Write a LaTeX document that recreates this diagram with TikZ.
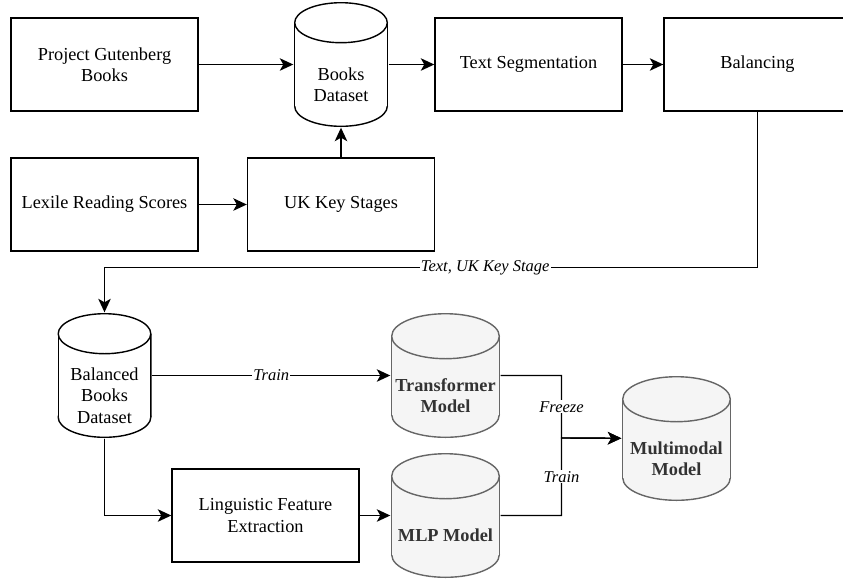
\documentclass[tikz,border=0pt]{standalone}
\usepackage{fontspec}
\setmainfont{Liberation Serif}
\usetikzlibrary{positioning,arrows.meta}
\definecolor{modelfill}{HTML}{F5F5F5}
\definecolor{modeldraw}{HTML}{666666}
\definecolor{modelink}{HTML}{333333}

\tikzset{
  tank ry/.initial=20pt,
  tank ink/.style={draw=black,fill=white},
  % cylinder drawn inside a plain rectangle node of half width #1
  tank/.style={rectangle,inner sep=0pt,minimum width=2*#1,minimum height=125pt,
    path picture={
      \coordinate (t) at ([yshift=-\pgfkeysvalueof{/tikz/tank ry}-0.7pt]path picture bounding box.north);
      \coordinate (b) at ([yshift=\pgfkeysvalueof{/tikz/tank ry}+0.7pt]path picture bounding box.south);
      \path[tank ink] (b) ellipse [x radius=#1-0.7pt,y radius=\pgfkeysvalueof{/tikz/tank ry}];
      \path[tank ink,draw=none] ([xshift=-#1+0.7pt]t) rectangle ([xshift=#1-0.7pt]b);
      \path[tank ink] ([xshift=-#1+0.7pt]t) -- ([xshift=-#1+0.7pt]b)
        ([xshift=#1-0.7pt]t) -- ([xshift=#1-0.7pt]b);
      \path[tank ink] (t) ellipse [x radius=#1-0.7pt,y radius=\pgfkeysvalueof{/tikz/tank ry}];
    }}
}

\begin{document}
\begin{tikzpicture}[x=1pt,y=-1pt,on grid,line width=1.4pt,
  font=\fontsize{18.3}{21.5}\selectfont,
  box/.style={draw,rectangle,minimum width=187pt,minimum height=93pt,align=center},
  db/.style={tank=47pt},
  model/.style={tank=54.5pt,tank ry=22.5pt,tank ink/.style={draw=modeldraw,fill=modelfill}},
  dbtext/.style={align=center,yshift=-20pt},
  modeltext/.style={dbtext,text=modelink,font=\fontsize{18.3}{21.5}\selectfont\bfseries},
  arrow/.style={-{Stealth[length=13.5pt,width=12.5pt,inset=3.5pt]}},
  lbl/.style={fill=white,inner sep=1pt,font=\fontsize{16.5}{19}\selectfont\itshape}]
  \useasboundingbox (0,0) rectangle (843,582);

  % data preparation
  \node[box] (gutenberg) at (104.5,64.5) {Project Gutenberg\\Books};
  \node[db,label={[dbtext]center:Books\\Dataset}] (books) [right=236.5pt of gutenberg] {};
  \node[box] (segment) [right=187.5pt of books] {Text Segmentation};
  \node[box] (balancing) [right=229pt of segment] {Balancing};
  \node[box] (lexile) [below=140pt of gutenberg] {Lexile Reading Scores};
  \node[box] (keystages) [below=140pt of books] {UK Key Stages};

  % models
  \node[db,label={[dbtext]center:Balanced\\Books\\Dataset}] (balanced) [below=311pt of gutenberg] {};
  \node[model,label={[modeltext]center:Transformer\\Model}] (transformer) [right=341pt of balanced] {};
  \node[model,label={[modeltext]center:MLP Model}] (mlp) [below=140pt of transformer] {};
  \node[box] (features) [left=180pt of mlp] {Linguistic Feature\\Extraction};
  \node[model,label={[modeltext]center:Multimodal\\Model}] (multimodal) [below right=63pt and 231pt of transformer] {};
  \coordinate (merge) at (561.5,438);

  \draw[arrow] (gutenberg) -- (books);
  \draw[arrow] (books) -- (segment);
  \draw[arrow] (segment) -- (balancing);
  \draw[arrow] (lexile) -- (keystages);
  \draw[arrow] (keystages) -- (books);
  \draw[arrow] (balancing.south) -- ++(0,156) coordinate (turn)
    -- node[lbl,pos=0.417] {Text, UK Key Stage} (turn -| balanced.north) -- (balanced.north);
  \draw[arrow] (balanced) -- node[lbl] {Train} (transformer);
  \draw[arrow] (balanced.south) |- (features);
  \draw[arrow] (features) -- (mlp);
  \draw[arrow] (transformer.east) -| node[lbl,pos=0.75] {Freeze} (merge) -- (multimodal);
  \draw[arrow] (mlp.east) -| node[lbl,pos=0.75] {Train} (merge) -- (multimodal);
\end{tikzpicture}
\end{document}
